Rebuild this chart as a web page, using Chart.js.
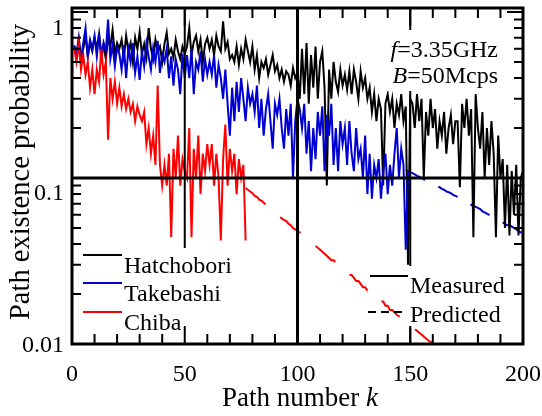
<!DOCTYPE html>
<html><head><meta charset="utf-8">
<script src="https://cdn.jsdelivr.net/npm/chart.js@4.4.0/dist/chart.umd.min.js"></script>
<style>html,body{margin:0;padding:0;background:#fff;}#wrap{width:542px;height:416px;}</style>
</head><body><div id="wrap"><canvas id="c" width="542" height="416"></canvas></div>
<script>
// ---- data (path number k starts at 1) ----
const hatchobori = [
0.62,0.55,0.68,0.52,0.6,0.72,0.54,0.65,0.58,0.7,
0.6,0.74,0.56,0.64,0.52,0.7,0.62,0.78,0.56,0.65,
0.6,0.68,0.53,0.72,0.58,0.65,0.5,0.7,0.6,0.76,
0.56,0.64,0.53,0.8,0.6,0.52,0.68,0.58,0.62,0.5,
0.64,0.75,0.56,0.6,0.53,0.68,0.58,0.52,0.62,0.56,
0.62,0.8,0.55,0.66,0.72,0.58,0.68,0.5,0.64,0.7,
0.6,0.68,0.55,0.72,0.62,0.58,0.88,0.6,0.66,0.52,
0.55,0.5,0.62,0.48,0.6,0.52,0.68,0.58,0.5,0.62,
0.45,0.55,0.4,0.5,0.46,0.52,0.42,0.48,0.55,0.44,
0.48,0.4,0.45,0.38,0.44,0.42,0.36,0.46,0.4,0.43,
0.3,0.6,0.32,0.65,0.28,0.55,0.35,0.62,0.3,0.5,
0.58,0.35,0.09,0.45,0.3,0.5,0.38,0.33,0.45,0.36,
0.42,0.34,0.44,0.32,0.45,0.38,0.3,0.44,0.35,0.4,
0.3,0.35,0.25,0.32,0.22,0.3,0.26,0.09,0.28,0.32,
0.25,0.3,0.2,0.28,0.24,0.32,0.22,0.27,0.03,0.3,
0.28,0.2,0.32,0.22,0.3,0.1,0.25,0.18,0.3,0.2,
0.26,0.15,0.22,0.18,0.25,0.14,0.2,0.24,0.16,0.22,
0.22,0.088,0.28,0.2,0.3,0.18,0.26,0.044,0.32,0.2,
0.15,0.25,0.1,0.2,0.12,0.22,0.14,0.044,0.18,0.1,
0.13,0.05,0.12,0.045,0.11,0.06,0.12,0.045,0.1,0.11];
const takebashi = [
0.63,0.56,0.7,0.52,0.65,0.8,0.54,0.68,0.6,0.72,
0.54,0.74,0.5,0.65,0.58,0.9,0.52,0.63,0.47,0.61,
0.56,0.45,0.63,0.4,0.6,0.5,0.65,0.43,0.54,0.39,
0.58,0.47,0.65,0.54,0.45,0.61,0.5,0.67,0.43,0.56,
0.5,0.6,0.4,0.54,0.36,0.52,0.45,0.32,0.56,0.4,
0.55,0.4,0.6,0.32,0.5,0.45,0.58,0.38,0.52,0.42,
0.5,0.42,0.55,0.35,0.48,0.4,0.3,0.45,0.28,0.18,
0.35,0.22,0.38,0.25,0.4,0.3,0.22,0.35,0.28,0.32,
0.25,0.36,0.2,0.3,0.18,0.26,0.32,0.22,0.15,0.28,
0.24,0.3,0.2,0.15,0.26,0.18,0.28,0.1,0.22,0.3,
0.26,0.2,0.28,0.14,0.22,0.11,0.2,0.13,0.25,0.18,
0.27,0.11,0.24,0.18,0.28,0.12,0.2,0.11,0.22,0.16,
0.2,0.12,0.22,0.14,0.11,0.2,0.13,0.15,0.1,0.18,
0.08,0.14,0.075,0.12,0.1,0.13,0.075,0.11,0.14,0.08,
0.12,0.09,0.14,0.2,0.1,0.15,0.12,0.037,0.11];
const chiba = [
0.6,0.5,0.65,0.45,0.55,0.42,0.5,0.35,0.45,0.32,
0.45,0.38,0.6,0.42,0.5,0.17,0.4,0.3,0.38,0.28,
0.35,0.27,0.32,0.26,0.3,0.25,0.28,0.22,0.27,0.24,
0.22,0.25,0.16,0.2,0.14,0.18,0.12,0.36,0.12,0.09,
0.12,0.09,0.14,0.044,0.15,0.1,0.18,0.09,0.13,0.11,
0.1,0.2,0.044,0.15,0.1,0.18,0.08,0.14,0.11,0.16,
0.12,0.16,0.09,0.14,0.1,0.042,0.13,0.21,0.09,0.15,
0.11,0.14,0.08,0.13,0.1,0.12,0.042];
const chibaPredStart = 77;
const chibaPred = [
0.087,0.085,0.083,0.081,0.078,0.077,0.074,0.073,0.071,0.069,
0.067,0.066,0.063,0.062,0.061,0.059,0.057,0.056,0.055,0.053,
0.052,0.050,0.049,0.048,0.047,0.045,0.044,0.043,0.042,0.041,
0.040,0.039,0.038,0.037,0.036,0.035,0.034,0.033,0.032,0.032,
0.031,0.030,0.029,0.028,0.028,0.027,0.026,0.026,0.025,0.024,
0.024,0.023,0.022,0.022,0.021,0.021,0.020,0.020,0.019,0.019,
0.018,0.018,0.017,0.017,0.016,0.016,0.0155,0.015,0.0147,0.0143,
0.014,0.0136,0.0132,0.013,0.0126,0.0123,0.012,0.0117,0.0114,0.0111,
0.0108,0.0105,0.0103,0.0100,0.0098,0.0095];
const takebashiPredStart = 148;
const takebashiPred = [
0.112,0.110,0.108,0.107,0.105,0.103,0.102,0.100,0.098,0.097,
0.095,0.094,0.092,0.091,0.089,0.088,0.086,0.085,0.083,0.082,
0.081,0.079,0.078,0.077,0.075,0.074,0.073,0.072,0.070,0.069,
0.068,0.067,0.066,0.065,0.063,0.062,0.061,0.060,0.059,0.058,
0.057,0.056,0.055,0.054,0.053,0.052,0.052,0.051,0.050,0.049,
0.048,0.047,0.047];
const xTicks = [0, 50, 100, 150, 200];
const yTicks = [0.01, 0.1, 1];
const seriesNames = ['Hatchobori', 'Takebashi', 'Chiba'];
const styleNames = ['Measured', 'Predicted'];

const BLACK = '#000000', BLUE = '#0000d0', RED = '#ff0000';
const FONT = "'Liberation Serif','Times New Roman',serif";
const toPts = (arr, start) => arr.map((v, i) => ({x: start + i, y: v}));
const lineDs = (label, data, color, dash) => ({
  label, data, borderColor: color, borderWidth: 2, pointRadius: 0,
  tension: 0, fill: false, borderDash: dash || [], borderJoinStyle: 'miter'
});

const framePlugin = {
  id: 'frame',
  afterDatasetsDraw(chart) {
    const {ctx, chartArea: a, scales: {x, y}} = chart;
    ctx.save();
    ctx.strokeStyle = BLACK;
    ctx.lineWidth = 2;
    [50, 150].forEach(v => { const px = x.getPixelForValue(v); ctx.beginPath(); ctx.moveTo(px, a.top); ctx.lineTo(px, a.bottom); ctx.stroke(); });
    ctx.lineWidth = 3;
    let px = x.getPixelForValue(100);
    ctx.beginPath(); ctx.moveTo(px, a.top); ctx.lineTo(px, a.bottom); ctx.stroke();
    let py = y.getPixelForValue(0.1);
    ctx.beginPath(); ctx.moveTo(a.left, py); ctx.lineTo(a.right, py); ctx.stroke();
    ctx.fillStyle = '#fff';
    ctx.fillRect(385, 30, 121, 61);
    ctx.fillRect(75, 248, 170, 94);
    ctx.fillRect(405, 266, 105, 62);
    ctx.restore();
  },
  afterDraw(chart) {
    const {ctx, chartArea: a, scales: {x, y}} = chart;
    ctx.save();
    ctx.strokeStyle = BLACK; ctx.fillStyle = BLACK;
    ctx.lineWidth = 2;
    for (let v = 10; v < 200; v += 10) {
      const px = x.getPixelForValue(v);
      const len = (v % 50 === 0) ? 18 : 10;
      ctx.beginPath(); ctx.moveTo(px, a.bottom); ctx.lineTo(px, a.bottom - len);
      ctx.moveTo(px, a.top); ctx.lineTo(px, a.top + len); ctx.stroke();
    }
    [0.01, 0.1].forEach(d => {
      for (let m = 1; m <= 10; m++) {
        const v = d * m; if (v <= 0.01) continue;
        const py = y.getPixelForValue(v);
        const len = (m === 1 || m === 10) ? 16 : 9;
        ctx.beginPath(); ctx.moveTo(a.left, py); ctx.lineTo(a.left + len, py);
        ctx.moveTo(a.right, py); ctx.lineTo(a.right - len, py); ctx.stroke();
      }
    });
    ctx.lineWidth = 3;
    ctx.strokeRect(a.left, a.top, a.right - a.left, a.bottom - a.top);
    ctx.font = '24px ' + FONT;
    ctx.textAlign = 'center'; ctx.textBaseline = 'alphabetic';
    xTicks.forEach(v => ctx.fillText(String(v), x.getPixelForValue(v), a.bottom + 37));
    ctx.textAlign = 'right';
    const yOff = [8, 22, 23];
    yTicks.forEach((v, i) => ctx.fillText(String(v), a.left - 8, y.getPixelForValue(v) + yOff[i]));
    ctx.font = '27px ' + FONT;
    const t1 = 'Path number ', t2 = 'k';
    const w1 = ctx.measureText(t1).width;
    ctx.font = 'italic 27px ' + FONT;
    const w2 = ctx.measureText(t2).width;
    let sx = 300 - (w1 + w2) / 2;
    ctx.textAlign = 'left';
    ctx.font = '27px ' + FONT; ctx.fillText(t1, sx, 406);
    ctx.font = 'italic 27px ' + FONT; ctx.fillText(t2, sx + w1, 406);
    ctx.save();
    ctx.translate(29, 172); ctx.rotate(-Math.PI / 2);
    ctx.font = '28.5px ' + FONT; ctx.textAlign = 'center';
    ctx.fillText('Path existence probability', 0, 0);
    ctx.restore();
    const drawRight = (ital, rest, xr, yb) => {
      ctx.font = '24px ' + FONT; const wr = ctx.measureText(rest).width;
      ctx.font = 'italic 24px ' + FONT; const wi = ctx.measureText(ital).width;
      ctx.textAlign = 'left';
      ctx.fillText(ital, xr - wr - wi, yb);
      ctx.font = '24px ' + FONT; ctx.fillText(rest, xr - wr, yb);
    };
    drawRight('f', '=3.35GHz', 498, 57);
    drawRight('B', '=50Mcps', 498, 83);
    const cols = [BLACK, BLUE, RED];
    const base = [273, 301, 330];
    ctx.font = '24px ' + FONT; ctx.textAlign = 'left';
    seriesNames.forEach((n, i) => {
      ctx.strokeStyle = cols[i]; ctx.lineWidth = 2;
      ctx.beginPath(); ctx.moveTo(83, base[i] - 18); ctx.lineTo(122, base[i] - 18); ctx.stroke();
      ctx.fillStyle = BLACK; ctx.fillText(n, 124, base[i]);
    });
    ctx.strokeStyle = BLACK; ctx.lineWidth = 2;
    ctx.beginPath(); ctx.moveTo(370, 276); ctx.lineTo(408, 276); ctx.stroke();
    ctx.setLineDash([8, 5]);
    ctx.beginPath(); ctx.moveTo(368, 312); ctx.lineTo(402, 312); ctx.stroke();
    ctx.setLineDash([]);
    ctx.fillText(styleNames[0], 410, 293);
    ctx.fillText(styleNames[1], 410, 322);
    ctx.restore();
  }
};

new Chart(document.getElementById('c'), {
  type: 'line',
  data: {datasets: [
    lineDs('Chiba', toPts(chiba, 1), RED),
    lineDs('Takebashi', toPts(takebashi, 1), BLUE),
    lineDs('Hatchobori', toPts(hatchobori, 1), BLACK),
    lineDs('Chiba predicted', toPts(chibaPred, chibaPredStart), RED, [26, 20]),
    lineDs('Takebashi predicted', toPts(takebashiPred, takebashiPredStart), BLUE, [22, 15])
  ]},
  options: {
    responsive: false, animation: false, devicePixelRatio: 1,
    layout: {padding: {left: 72, right: 19, top: 8, bottom: 72}},
    plugins: {legend: {display: false}, tooltip: {enabled: false}},
    scales: {
      x: {type: 'linear', min: 0, max: 200, display: false},
      y: {type: 'logarithmic', min: 0.01, max: 1.057, display: false}
    }
  },
  plugins: [framePlugin]
});
</script></body></html>
